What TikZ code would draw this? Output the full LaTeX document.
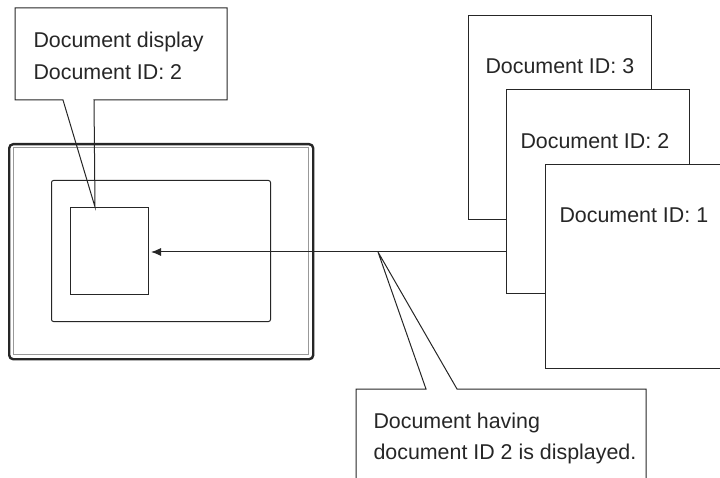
\documentclass[tikz,border=0pt]{standalone}
\usepackage{fontspec}
\setmainfont{Liberation Sans}
\usetikzlibrary{arrows.meta}
\begin{document}
\begin{tikzpicture}[x=1pt,y=-1pt,
  line width=1pt, draw=black!85,
  boxn/.style={draw=black!85, fill=white, inner sep=0pt, anchor=north west},
  docbox/.style={boxn, minimum width=183pt, minimum height=204pt},
  txt/.style={anchor=base west, inner sep=0pt, font=\fontsize{21.4}{25}\selectfont, text=black!85},
  arr/.style={-{Latex[length=10pt,width=8pt]}, shorten >=2pt}]
\useasboundingbox (0,0) rectangle (720,478);
% monitor
\node[boxn, line width=2.4pt, rounded corners=4pt, minimum width=304pt, minimum height=215pt] (mon) at (8,143) {};
\node[boxn, draw=black!40, line width=0.9pt, fill=none, minimum width=295pt, minimum height=206pt] (monin) at (12.5,147.5) {};
\node[boxn, fill=none, rounded corners=2pt, minimum width=219pt, minimum height=141pt] (scr) at (51,180) {};
\node[boxn, minimum width=78pt, minimum height=87pt] (sr) at (70,207) {};
% top callout
\coordinate (t1) at (15,8);
\coordinate (t2) at (227,8);
\coordinate (t3) at (227,100);
\coordinate (t4) at (94,100);
\coordinate (ttip) at (95,207);
\coordinate (t5) at (63,100);
\coordinate (t6) at (15,100);
\draw (t1) -- (t2) -- (t3) -- (t4) -- (ttip) -- (t5) -- (t6) -- cycle;
\node[txt] (tl1) at (33,48) {Document display};
\node[txt] (tl2) at (33,80) {Document ID: 2};
% documents
\node[docbox] (d3) at (468,15) {};
\node[docbox] (d2) at (506,89) {};
\node[docbox] (d1) at (545,164) {};
\node[txt] (d3t) at (485,74) {Document ID: 3};
\node[txt] (d2t) at (520,149) {Document ID: 2};
\node[txt] (d1t) at (559,223) {Document ID: 1};
% arrow
\coordinate (ay) at (0,252);
\draw[arr] (d2.west |- ay) -- (sr.east |- ay);
% bottom callout
\coordinate (btip) at (378,252);
\coordinate (b1) at (356,482);
\coordinate (b2) at (356,389);
\coordinate (b3) at (426,389);
\coordinate (b4) at (457,389);
\coordinate (b5) at (646,389);
\coordinate (b6) at (646,482);
\draw (b1) -- (b2) -- (b3) -- (btip) -- (b4) -- (b5) -- (b6);
\node[txt] (bl1) at (373,428) {Document having};
\node[txt] (bl2) at (373,459) {document ID 2 is displayed.};
\end{tikzpicture}
\end{document}
